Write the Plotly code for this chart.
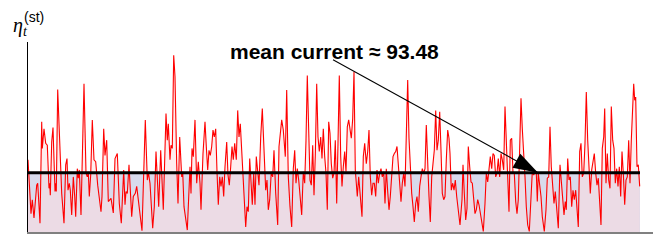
import plotly.graph_objects as go

# ---- data ----
T = [0, 3, 4.3, 6, 8.7, 9.7, 12, 13.7, 14.3, 16, 17.7, 19.3, 21, 21.7, 22.3, 23.7, 25, 25.7, 27, 27.7,
     28.3, 29.7, 31.7, 33.7, 36, 37.7, 39, 40, 41.3, 42.3, 43.7, 45.3, 46.7, 47.7, 49.3, 50.3, 51.3, 53, 56, 58,
     59.3, 60.3, 61.3, 62.7, 64.3, 66, 67.7, 69.7, 73, 74, 75.7, 77, 78.7, 80.3, 83, 85.3, 87, 88, 89.3, 91.3,
     93.3, 95.7, 97, 98, 99.3, 101, 102.7, 103.7, 105.3, 107.3, 108.7, 110.7, 114, 117.3, 119.3, 120.3, 122, 124.7, 126.3, 128,
     130.7, 132.7, 135.3, 138, 139.3, 140.3, 142, 143, 144.3, 145.7, 147, 148.7, 150, 151.7, 153.7, 154.7, 156, 159.3, 162, 163,
     164, 165.3, 167, 168.7, 170.3, 172, 173, 175, 177, 178.3, 179.7, 181, 182.3, 183.7, 185, 186.3, 187.7, 189, 190.3, 191.7,
     193, 194.3, 195.7, 197, 198.7, 200, 201.3, 202.7, 204, 205.3, 206.7, 208.3, 209.7, 211, 212.3, 213.7, 215, 217.7, 219, 220.3,
     221.7, 223, 224.3, 225.7, 227, 228.3, 229.7, 231, 232.7, 234.3, 236.3, 237.7, 239, 240.3, 241.7, 243.3, 244.7, 246, 247.7, 249.7,
     251, 252.3, 253.7, 255.3, 257.3, 258.7, 260.3, 262, 263.7, 265.3, 266.7, 268, 269.3, 270.7, 272, 273.7, 275.3, 276.7, 278, 279.3,
     280.7, 282, 283.3, 284.7, 286, 287.3, 288.7, 290, 291.3, 292.7, 294, 295.3, 296.7, 298, 299.3, 300.7, 302, 303.3, 304.7, 306,
     307.3, 308.7, 310, 311.3, 312.7, 314, 315.3, 316.7, 318, 319.3, 320.7, 322, 323.3, 324.7, 326, 327.3, 329.3, 330.7, 332, 334,
     335.3, 336.7, 338.3, 339.7, 341, 342.3, 343.7, 345, 346.3, 347.7, 349, 350.3, 351.7, 353, 354.3, 355.7, 357, 358.3, 359.7, 361,
     362.3, 363.7, 365, 366.3, 367.7, 369, 370.3, 371.7, 373, 374.3, 375.7, 377, 378.3, 379.7, 381, 382.3, 383.7, 385, 386.3, 387.7,
     389, 390.3, 391.7, 393, 394.3, 395.7, 397, 398.3, 399.7, 401, 402.3, 403.7, 405, 406.3, 407.7, 409, 410.3, 411.7, 413, 414.3,
     415.7, 417, 418.3, 419.7, 421, 422, 423.3, 424.7, 426, 427.3, 428.7, 430, 432, 434, 435, 436.3, 437.7, 439, 440.3, 441.7,
     443, 444.3, 445.7, 447, 448.3, 449.7, 451, 452.3, 453.7, 455.3, 457, 458.3, 459.7, 461, 462.3, 463.7, 465, 466.3, 467.7, 469,
     470.3, 471.7, 473, 474.3, 475.7, 477, 478.3, 479.7, 481, 482.3, 483.7, 485, 486.3, 487.7, 489, 490.3, 491.7, 493, 494.3, 495.7,
     497, 498.3, 499.7, 501.3, 503, 504.3, 505.7, 507, 508.3, 509.3, 510.3, 511.7, 513, 514.3, 516.3, 518, 519.3, 520.7, 522, 523.3,
     524.7, 526, 527.3, 528.7, 530.3, 532, 533.3, 534.7, 536, 537.3, 538.3, 539.7, 541, 542.3, 543.7, 545, 546.3, 547.7, 549, 550.3,
     551.7, 553, 554.3, 555.7, 557, 558.3, 559.7, 561, 562.3, 563.7, 565, 566.3, 567.7, 569, 570.3, 571.7, 573, 574.3, 575.7, 576.7,
     578, 579.3, 580.7, 582, 583.3, 584.7, 586, 587.3, 588.7, 590, 591.3, 592.7, 594, 595.3, 596.7, 598, 599.3, 600.7, 602, 603.3,
     604.7, 605.7, 606.7, 607.7, 609, 610.3, 611.7]

ETA = [114, 29, 51, 22, 74, 77, 14, 174, 132, 163, 140, 137, 69, 77, 58, 142, 165, 124, 64, 77,
       64, 225, 145, 61, 14, 106, 116, 66, 77, 66, 27, 87, 56, 24, 100, 85, 98, 27, 234, 93,
       87, 95, 56, 90, 177, 114, 111, 74, 32, 56, 163, 121, 145, 48, 53, 30, 116, 121, 124, 45,
       14, 98, 43, 64, 61, 106, 61, 24, 56, 61, 72, 45, 2, 177, 82, 95, 77, 6, 40, 127,
       40, 129, 35, 187, 145, 171, 114, 137, 132, 279, 245, 108, 45, 150, 87, 95, 40, 3, 103, 61,
       132, 119, 177, 77, 111, 77, 35, 124, 174, 135, 98, 129, 121, 135, 161, 150, 163, 95, 43, 87,
       72, 87, 56, 103, 142, 90, 74, 103, 135, 114, 140, 114, 192, 150, 171, 129, 87, 8, 40, 32,
       116, 66, 43, 93, 43, 119, 90, 74, 150, 195, 119, 66, 82, 35, 51, 95, 87, 129, 61, 11,
       135, 156, 177, 161, 119, 224, 87, 40, 8, 100, 129, 77, 100, 82, 61, 27, 95, 77, 145, 247,
       161, 82, 74, 137, 58, 121, 234, 150, 127, 150, 116, 163, 119, 93, 35, 174, 156, 108, 85, 93,
       145, 45, 140, 247, 119, 72, 103, 127, 95, 166, 177, 163, 148, 179, 253, 98, 56, 87, 66, 24,
       119, 140, 108, 127, 161, 87, 58, 77, 77, 56, 98, 77, 93, 100, 87, 95, 45, 100, 64, 35,
       56, 95, 119, 124, 127, 135, 108, 82, 48, 77, 93, 72, 145, 240, 148, 93, 61, 40, 16, 45,
       56, 32, 72, 87, 100, 93, 100, 169, 103, 56, 16, 87, 108, 129, 192, 129, 145, 190, 129, 61,
       51, 56, 114, 161, 148, 124, 66, 77, 66, 82, 56, 35, 11, 51, 106, 61, 19, 37, 135, 103,
       79, 77, 53, 29, 35, 51, 43, 29, 16, 1, 45, 93, 79, 98, 119, 100, 124, 121, 87, 93,
       116, 87, 124, 114, 98, 198, 142, 82, 32, 145, 148, 93, 93, 48, 29, 51, 119, 211, 163, 129,
       87, 40, 11, 1, 56, 95, 90, 95, 93, 48, 93, 77, 56, 24, 1, 35, 85, 87, 166, 103,
       66, 45, 64, 29, 6, 106, 77, 45, 27, 48, 35, 116, 82, 87, 40, 66, 51, 66, 29, 8,
       127, 140, 87, 93, 140, 221, 145, 103, 61, 98, 116, 124, 93, 74, 85, 45, 11, 132, 150, 195,
       77, 124, 82, 69, 198, 145, 132, 77, 100, 72, 103, 56, 127, 93, 43, 82, 87, 145, 77, 145,
       198, 234, 208, 213, 103, 106, 72]

MEAN = 93.48
MEAN_LABEL = "mean current ≈ 93.48"
T_END = 612
ARROW_TAIL = (305, 272)   # where the pointer starts, just under the label
ARROW_TIP_T = 510         # where it meets the mean line

FONT = "Liberation Sans, Arial, sans-serif"
SERIF = "Liberation Serif, Times New Roman, serif"

fig = go.Figure()

# lavender area under the mean level
fig.add_trace(go.Scatter(x=[0, T_END], y=[MEAN, MEAN], mode="lines",
                         line=dict(width=0), fill="tozeroy",
                         fillcolor="rgb(216,218,236)", hoverinfo="skip"))
# the series with its translucent pink filling
fig.add_trace(go.Scatter(x=T, y=ETA, mode="lines",
                         line=dict(color="#ff0000", width=1.1),
                         fill="tozeroy", fillcolor="rgba(255,220,222,0.5)"))
# mean line
fig.add_trace(go.Scatter(x=[0, T_END], y=[MEAN, MEAN], mode="lines",
                         line=dict(color="black", width=3), hoverinfo="skip"))
# pointer shaft
fig.add_trace(go.Scatter(x=[ARROW_TAIL[0], ARROW_TIP_T], y=[ARROW_TAIL[1], MEAN], mode="lines",
                         line=dict(color="black", width=1.1), hoverinfo="skip"))
# pointer head
fig.add_trace(go.Scatter(x=[ARROW_TIP_T], y=[MEAN], mode="markers",
                         marker=dict(symbol="arrow", size=26, angle=119, color="black",
                                     line=dict(width=0)),
                         hoverinfo="skip"))

fig.update_layout(
    width=657, height=238,
    margin=dict(l=20, r=12, t=34, b=14),
    paper_bgcolor="white", plot_bgcolor="white",
    showlegend=False,
    font=dict(family=FONT, color="black"),
    xaxis=dict(range=[0, 625], showgrid=False, zeroline=False, showticklabels=False,
               ticks="", showline=True, linecolor="#808080", linewidth=2),
    yaxis=dict(range=[0, 300], showgrid=False, zeroline=False, showticklabels=False,
               ticks="", showline=True, linecolor="black", linewidth=1),
    annotations=[
        dict(x=306, y=285, xref="x", yref="y", text="<b>" + MEAN_LABEL + "</b>",
             showarrow=False, font=dict(size=21, family=FONT, color="black"),
             xanchor="center", yanchor="middle"),
        dict(x=-0.027, y=1.079, xref="paper", yref="paper",
             text="<i>η<sub>t</sub></i>", showarrow=False,
             font=dict(size=20, family=SERIF, color="black"),
             xanchor="left", yanchor="middle"),
        dict(x=-0.010, y=1.134, xref="paper", yref="paper", text="(st)", showarrow=False,
             font=dict(size=14, family=FONT, color="black"),
             xanchor="left", yanchor="middle"),
        dict(x=629, y=8, xref="x", yref="y", text="<i>t</i>", showarrow=False,
             font=dict(size=13, family=SERIF, color="black"),
             xanchor="left", yanchor="middle"),
    ],
)

fig.write_html("out.html")
